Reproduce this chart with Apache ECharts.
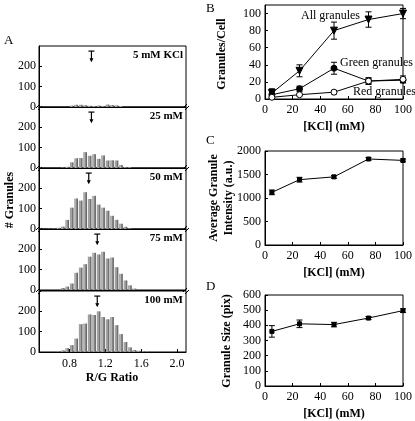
<!DOCTYPE html>
<html><head><meta charset="utf-8">
<script src="https://cdn.jsdelivr.net/npm/echarts@6/dist/echarts.min.js"></script>
<style>html,body{margin:0;padding:0;background:#fff}#c{width:415px;height:421px}</style>
</head><body><div id="c"></div>
<script>
// ---------- Panel A data ----------
const binCenters = [0.575,0.625,0.675,0.725,0.775,0.825,0.875,0.925,0.975,1.025,1.075,1.125,1.175,1.225,1.275,1.325,1.375,1.425,1.475,1.525,1.575,1.625,1.675];
const counts5   = [0,0,0,0,0,7,11,11,9,6,5,7,4,12,10,8,5,0,0,0,0,0,0];
const counts25  = [0,0,0,2,6,28,48,49,78,60,68,45,62,37,38,37,15,4,4,0,0,0,0];
const counts50  = [1,2,6,12,45,105,150,140,181,148,163,120,105,90,65,45,26,11,3,0,0,0,0];
const counts75  = [0,0,0,10,17,32,85,110,127,164,183,175,188,155,160,112,80,47,23,7,0,0,0];
const counts100 = [0,0,3,8,19,34,66,137,140,185,182,200,172,161,172,132,88,49,23,10,6,3,2];
const panelLabels = ['5 mM KCl','25 mM','50 mM','75 mM','100 mM'];
const meanRatio = [1.045,1.045,1.015,1.11,1.11];
const arrowTop = 275, arrowBottom = 220;
const ratioTicks = [0.8,1.2,1.6,2.0];
const countTicks = [0,100,200];
const binHalf = 0.02;

// ---------- Panel B/C/D data ----------
const kcl = [5,25,50,75,100];
const allMean = [7,33,80,93,100];
const allErr = [5,7,10,9,6];
const greenMean = [5,12,36,21,22];
const greenErr = [3,3,7,3,3];
const redMean = [2,5,8,21,23];
const redErr = [1,1,2,4,4];
const intensity = [1120,1390,1450,1830,1800];
const intensityErr = [50,50,30,30,30];
const sizePix = [360,410,405,448,497];
const sizeErr = [38,25,15,10,12];

const FONT = 'Liberation Serif';
const chart = echarts.init(document.getElementById('c'));

const grids = [], xAxes = [], yAxes = [], series = [], graphics = [];
const aCounts = [counts5,counts25,counts50,counts75,counts100];
const aTops = [46,107,168,229,291];
const A_LEFT = 39, A_W = 147, A_H = 61;

function errRender(params, api){
  const x = api.value(0), lo = api.value(1), hi = api.value(2);
  const p1 = api.coord([x,hi]), p2 = api.coord([x,lo]);
  const c = 3;
  return {type:'group', children:[
    {type:'line', shape:{x1:p1[0],y1:p1[1],x2:p2[0],y2:p2[1]}, style:{stroke:'#000',lineWidth:1}},
    {type:'line', shape:{x1:p1[0]-c,y1:p1[1],x2:p1[0]+c,y2:p1[1]}, style:{stroke:'#000',lineWidth:1}},
    {type:'line', shape:{x1:p2[0]-c,y1:p2[1],x2:p2[0]+c,y2:p2[1]}, style:{stroke:'#000',lineWidth:1}}
  ]};
}
function arrowRender(params, api){
  const x = api.value(0), t = api.value(1), b = api.value(2);
  const p1 = api.coord([x,t]), p2 = api.coord([x,b]);
  return {type:'group', children:[
    {type:'line', shape:{x1:p1[0],y1:p1[1],x2:p2[0],y2:p2[1]-2}, style:{stroke:'#000',lineWidth:1.2}},
    {type:'line', shape:{x1:p1[0]-3,y1:p1[1],x2:p1[0]+3,y2:p1[1]}, style:{stroke:'#000',lineWidth:1.2}},
    {type:'polygon', shape:{points:[[p2[0]-2,p2[1]-4],[p2[0]+2,p2[1]-4],[p2[0],p2[1]]]}, style:{fill:'#000'}}
  ]};
}
function barRender(params, api){
  const x = api.value(0), y = api.value(1);
  if (!y) return null;
  const p1 = api.coord([x-binHalf, y]), p2 = api.coord([x+binHalf, 0]);
  const w = p2[0]-p1[0], h = p2[1]-p1[1];
  return {type:'rect', shape:{x:p1[0], y:p1[1], width:w, height:Math.max(h,0.8)},
    style:{fill:new echarts.graphic.LinearGradient(0,0,1,0,[
      {offset:0,color:'#8c8c8c'},{offset:0.35,color:'#b4b4b4'},{offset:0.65,color:'#7e7e7e'},{offset:1,color:'#555555'}])}};
}

aCounts.forEach((cnt,i)=>{
  const last = i === 4;
  grids.push({left:A_LEFT, top:aTops[i], width:A_W, height:A_H, show:true, borderColor:'#000', borderWidth:1, backgroundColor:'transparent'});
  xAxes.push({type:'value', gridIndex:i, min:0.46, max:2.1,
    axisLine:{show:true, lineStyle:{color:'#000'}},
    axisTick:{show:last, inside:true, length:3, customValues:ratioTicks, lineStyle:{color:'#000'}},
    axisLabel:{show:last, customValues:ratioTicks, formatter:v=>v.toFixed(1), fontFamily:FONT, fontSize:12, color:'#000', margin:6},
    splitLine:{show:false}});
  yAxes.push({type:'value', gridIndex:i, min:0, max:300,
    axisLine:{show:true, lineStyle:{color:'#000'}},
    axisTick:{show:true, inside:true, length:3, customValues:countTicks, lineStyle:{color:'#000'}},
    axisLabel:{customValues:countTicks, fontFamily:FONT, fontSize:12, color:'#000', margin:3},
    splitLine:{show:false}});
  series.push({type:'custom', xAxisIndex:i, yAxisIndex:i, renderItem:barRender,
    data: binCenters.map((b,k)=>[b,cnt[k]]), silent:true, z:2, clip:true});
  series.push({type:'custom', xAxisIndex:i, yAxisIndex:i, renderItem:arrowRender,
    data:[[meanRatio[i], arrowTop, arrowBottom]], silent:true, z:5});
  graphics.push({type:'text', right:415-A_LEFT-A_W+3, top:aTops[i]+4,
    style:{text:panelLabels[i], font:'bold 11px "Liberation Serif"', fill:'#000'}});
});
// break marks at panel joins
[107,168,229,291].forEach(y=>{
  [A_LEFT, A_LEFT+A_W].forEach(x=>{
    graphics.push({type:'line', shape:{x1:x-3,y1:y+1,x2:x+1,y2:y-3}, style:{stroke:'#000',lineWidth:1}});
    graphics.push({type:'line', shape:{x1:x-1,y1:y+3,x2:x+3,y2:y-1}, style:{stroke:'#000',lineWidth:1}});
  });
});

// Right panels
const rp = [
  {top:5, h:94, ymax:110, yint:20},
  {top:151, h:94, ymax:2000, yint:500},
  {top:295, h:93, ymax:600, yint:100}
];
const RL = 265, RW = 140;
rp.forEach((p,j)=>{
  const gi = 5+j;
  grids.push({left:RL, top:p.top, width:RW, height:p.h, show:true, borderColor:'#000', borderWidth:1, backgroundColor:'transparent'});
  xAxes.push({type:'value', gridIndex:gi, min:0, max:100, interval:20,
    axisLine:{lineStyle:{color:'#000'}}, axisTick:{inside:true,length:3,lineStyle:{color:'#000'}},
    axisLabel:{fontFamily:FONT, fontSize:12, color:'#000', margin:5},
    splitLine:{show:false},
    name:'[KCl] (mM)', nameLocation:'middle', nameGap:22,
    nameTextStyle:{fontFamily:FONT, fontSize:12, fontWeight:'bold', color:'#000'}});
  yAxes.push({type:'value', gridIndex:gi, min:0, max:p.ymax, interval:p.yint,
    axisLine:{lineStyle:{color:'#000'}}, axisTick:{inside:true,length:3,lineStyle:{color:'#000'}},
    axisLabel:{fontFamily:FONT, fontSize:12, color:'#000', margin:4, showMaxLabel: j!==0, formatter:v=>String(v)},
    splitLine:{show:false}});
});
const lineStyle = {color:'#000', width:1};
function addLine(gi, ys, errs, symbol, fill, size, rotate){
  series.push({type:'custom', xAxisIndex:gi, yAxisIndex:gi, renderItem:errRender,
    data: kcl.map((k,i)=>[k, ys[i]-errs[i], ys[i]+errs[i]]), silent:true, z:3});
  series.push({type:'line', xAxisIndex:gi, yAxisIndex:gi, data:kcl.map((k,i)=>[k,ys[i]]),
    symbol:symbol, symbolSize:size, symbolRotate:rotate||0, showAllSymbol:true,
    lineStyle:lineStyle, itemStyle:{color:fill, borderColor:'#000', borderWidth:1}, z:4, silent:true});
}
addLine(5, allMean, allErr, 'triangle', '#000', 7, 180);
addLine(5, greenMean, greenErr, 'circle', '#000', 6);
addLine(5, redMean, redErr, 'circle', '#fff', 6);
addLine(6, intensity, intensityErr, 'rect', '#000', 4);
addLine(7, sizePix, sizeErr, 'rect', '#000', 4);

// Texts
const T = (x,y,text,font)=>({type:'text', x:x, y:y, style:{text:text, font:font, fill:'#000'}});
graphics.push(T(4,34,'A','13px "Liberation Serif"'));
graphics.push(T(206,2,'B','13px "Liberation Serif"'));
graphics.push(T(206,134,'C','13px "Liberation Serif"'));
graphics.push(T(206,280,'D','13px "Liberation Serif"'));
graphics.push(T(301,10,'All granules','12px "Liberation Serif"'));
graphics.push(T(340,57,'Green granules','12px "Liberation Serif"'));
graphics.push(T(353,86,'Red granules','12px "Liberation Serif"'));
graphics.push({type:'text', x:112, y:372, style:{text:'R/G Ratio', font:'bold 12px "Liberation Serif"', fill:'#000', align:'center'}});
graphics.push({type:'text', x:4, y:200, rotation:Math.PI/2, style:{text:'# Granules', font:'bold 12px "Liberation Serif"', fill:'#000', align:'center', verticalAlign:'top'}});
graphics.push({type:'text', x:216, y:54, rotation:Math.PI/2, style:{text:'Granules/Cell', font:'bold 12px "Liberation Serif"', fill:'#000', align:'center', verticalAlign:'top'}});
graphics.push({type:'text', x:206, y:198, rotation:Math.PI/2, style:{text:'Average Granule\nIntensity (a.u.)', font:'bold 12px "Liberation Serif"', fill:'#000', align:'center', verticalAlign:'top', lineHeight:15}});
graphics.push({type:'text', x:221, y:341, rotation:Math.PI/2, style:{text:'Granule Size (pix)', font:'bold 12px "Liberation Serif"', fill:'#000', align:'center', verticalAlign:'top'}});

chart.setOption({
  animation:false,
  backgroundColor:'#fff',
  grid:grids, xAxis:xAxes, yAxis:yAxes, series:series, graphic:graphics
});
</script></body></html>
